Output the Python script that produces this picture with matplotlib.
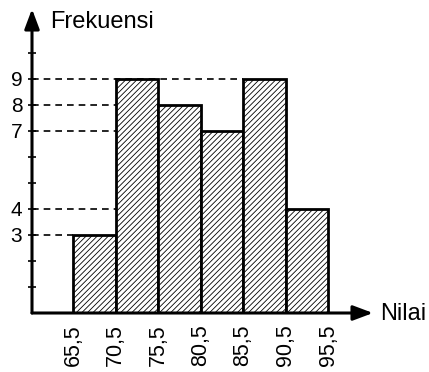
import numpy as np
import matplotlib.pyplot as plt
import matplotlib as mpl

plt.rcParams['font.family'] = ['Liberation Sans', 'DejaVu Sans']
plt.rcParams['hatch.linewidth'] = 0.6

# data
edges = [65.5, 70.5, 75.5, 80.5, 85.5, 90.5, 95.5]
edge_labels = ['65,5', '70,5', '75,5', '80,5', '85,5', '90,5', '95,5']
freq = [3, 9, 8, 7, 9, 4]
ytick_labels = [3, 4, 7, 8, 9]
# where each dashed guide line stops (left edge of the bar it reaches)
guide_end = {9: 85.5, 8: 70.5, 7: 70.5, 4: 70.5, 3: 65.5}

W, H = 429, 372
fig = plt.figure(figsize=(W / 100, H / 100), dpi=100)
ax_left, ax_bottom = 32, 372 - 313
ax_w, ax_h = 341, 304
ax = fig.add_axes([ax_left / W, ax_bottom / H, ax_w / W, ax_h / H])

x0 = 65.5 - 41 / 8.5
ax.set_xlim(x0, x0 + ax_w / 8.5)
ax.set_ylim(0, ax_h / 26)

widths = np.diff(edges)
ax.bar(edges[:-1], freq, width=widths, align='edge', facecolor='white',
       edgecolor='black', linewidth=2.0, hatch='//////', zorder=2)

# dashed guides
for v, xe in guide_end.items():
    ax.plot([x0, xe], [v, v], color='black', lw=1.2, ls=(0, (4, 3)), zorder=1)

for s in ax.spines.values():
    s.set_visible(False)

# axis arrows
arrow = dict(arrowstyle='-|>,head_length=1.2,head_width=0.45',
             color='black', lw=2.2, shrinkA=0, shrinkB=0)
ax.annotate('', xy=(1, 0), xytext=(0, 0), xycoords='axes fraction',
            arrowprops=arrow, zorder=3)
ax.annotate('', xy=(0, 1), xytext=(0, 0), xycoords='axes fraction',
            arrowprops=arrow, zorder=3)

ax.set_yticks(range(1, 11))
ax.set_yticklabels([str(t) if t in ytick_labels else '' for t in range(1, 11)],
                   fontsize=15)
ax.tick_params(axis='y', direction='inout', length=6, width=1.2, pad=4)

ax.set_xticks(edges)
ax.set_xticklabels(edge_labels, rotation=90, fontsize=15.5)
ax.tick_params(axis='x', length=0, pad=8)

fig.text(50 / W, 1 - 22 / H, 'Frekuensi', fontsize=17, va='center', ha='left')
fig.text(380 / W, 1 - 314 / H, 'Nilai', fontsize=17, va='center', ha='left')

fig.savefig('out.png', dpi=100)
